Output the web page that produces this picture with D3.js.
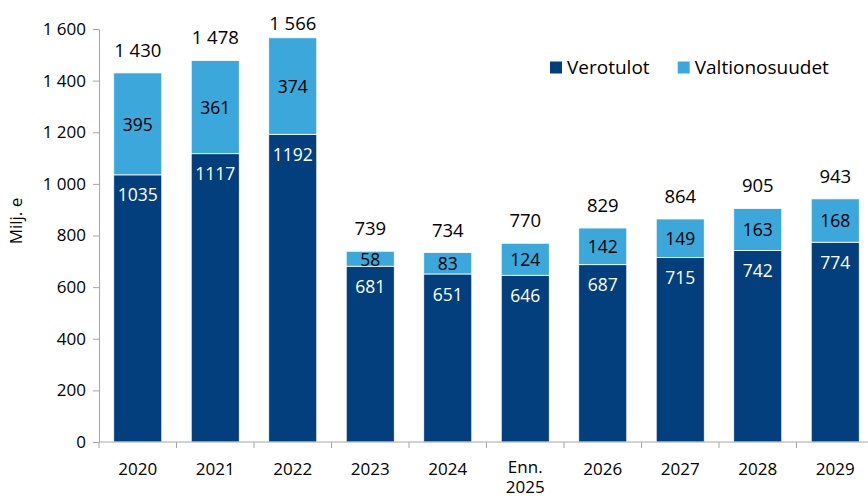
<!DOCTYPE html>
<html>
<head>
<meta charset="utf-8">
<script src="https://cdn.jsdelivr.net/npm/d3@7"></script>
<style>
  body { margin: 0; background: #fff; }
  svg { display: block; font-family: "Open Sans", "Noto Sans", sans-serif; }
</style>
</head>
<body>
<svg id="chart" width="868" height="498"></svg>
<script>
// Kunnan tulot, milj. e
const categories = ["2020", "2021", "2022", "2023", "2024", "Enn.\n2025", "2026", "2027", "2028", "2029"];
const verotulot = [1035, 1117, 1192, 681, 651, 646, 687, 715, 742, 774];
const valtionosuudet = [395, 361, 374, 58, 83, 124, 142, 149, 163, 168];
const totals = [1430, 1478, 1566, 739, 734, 770, 829, 864, 905, 943];
const yTicks = [0, 200, 400, 600, 800, 1000, 1200, 1400, 1600];
const seriesNames = ["Verotulot", "Valtionosuudet"];
const colors = ["#023f7c", "#3ba7da"];

const svg = d3.select("#chart");
const m = { left: 99, right: 874, top: 29, bottom: 442 };

const fmtSpace = v => d3.format(",")(v).replace(/,/g, "\u00a0");

const x = d3.scaleBand().domain(categories).range([m.left, m.right]).paddingInner(0.38).paddingOuter(0.19);
const y = d3.scaleLinear().domain([0, 1600]).range([m.bottom, m.top]);

const rows = categories.map((c, i) => ({ cat: c, Verotulot: verotulot[i], Valtionosuudet: valtionosuudet[i], total: totals[i] }));
const stack = d3.stack().keys(seriesNames)(rows);

// stacked bars
const layers = svg.append("g").selectAll("g").data(stack).join("g")
  .attr("fill", (d, i) => colors[i]);
layers.selectAll("rect").data(d => d).join("rect")
  .attr("x", d => x(d.data.cat))
  .attr("width", x.bandwidth())
  .attr("y", d => y(d[1]))
  .attr("height", d => y(d[0]) - y(d[1]))
  .attr("stroke", "#ffffff")
  .attr("stroke-width", 0.8);

// y axis
const yAxis = d3.axisLeft(y).tickValues(yTicks).tickSize(6).tickSizeOuter(0).tickPadding(7)
  .tickFormat(fmtSpace);
const gy = svg.append("g").attr("transform", `translate(${m.left},0)`).call(yAxis);
gy.select(".domain").attr("stroke", "#a6a6a6");
gy.selectAll(".tick line").attr("stroke", "#a6a6a6");
gy.selectAll(".tick text").attr("fill", "#000").style("font-size", "17px").style("font-family", "Open Sans");

// x axis with boundary ticks
const gx = svg.append("g").attr("transform", `translate(0,${m.bottom})`);
gx.append("line").attr("x1", m.left).attr("x2", m.right).attr("stroke", "#a6a6a6");
const step = x.step();
const bounds = d3.range(categories.length + 1).map(i => m.left + i * step);
gx.selectAll("line.tk").data(bounds).join("line").attr("class", "tk")
  .attr("x1", d => d).attr("x2", d => d).attr("y1", 0).attr("y2", 6).attr("stroke", "#a6a6a6");

// category labels; multi-line names get one text element per line
const labelLines = categories.flatMap(c => {
  const parts = c.split("\n");
  const first = parts.length > 1 ? 31 : 33;
  return parts.map((p, i) => ({ cat: c, text: p, y: first + i * 20 }));
});
gx.selectAll("text.xl").data(labelLines).join("text").attr("class", "xl")
  .attr("x", d => x(d.cat) + x.bandwidth() / 2)
  .attr("y", d => d.y)
  .attr("text-anchor", "middle")
  .style("font-size", "17px")
  .attr("fill", "#000")
  .text(d => d.text);

// y-axis title
svg.append("text")
  .attr("transform", "translate(22,221) rotate(-90)")
  .attr("text-anchor", "middle")
  .style("font-size", "17px")
  .attr("fill", "#000")
  .text("Milj. e");

// segment labels
const cx = d => x(d.data.cat) + x.bandwidth() / 2;
svg.append("g").selectAll("text").data(stack[0]).join("text")
  .attr("x", cx)
  .attr("y", d => y(d[1]) + 20.5)
  .attr("dy", "0.35em")
  .attr("text-anchor", "middle")
  .style("font-size", "17.5px")
  .attr("fill", "#ffffff")
  .text(d => d.data.Verotulot);
svg.append("g").selectAll("text").data(stack[1]).join("text")
  .attr("x", cx)
  .attr("y", d => (y(d[0]) + y(d[1])) / 2 + 0.8)
  .attr("dy", "0.35em")
  .attr("text-anchor", "middle")
  .style("font-size", "17.5px")
  .attr("fill", "#000")
  .text(d => d.data.Valtionosuudet);

// totals above bars
svg.append("g").selectAll("text").data(stack[1]).join("text")
  .attr("x", cx)
  .attr("y", d => Math.max(y(d.data.total) - 16, m.top + 0.5))
  .attr("text-anchor", "middle")
  .style("font-size", "18.5px")
  .attr("fill", "#000")
  .text(d => fmtSpace(d.data.total));

// legend
const legX = [550, 677.7];
const leg = svg.append("g").selectAll("g").data(seriesNames).join("g")
  .attr("transform", (d, i) => `translate(${legX[i]},61.5)`);
leg.append("rect").attr("width", 12).attr("height", 12).attr("fill", (d, i) => colors[i]);
leg.append("text").attr("x", 17).attr("y", 12.3)
  .style("font-size", "19px").attr("fill", "#000").text(d => d);
</script>
</body>
</html>
